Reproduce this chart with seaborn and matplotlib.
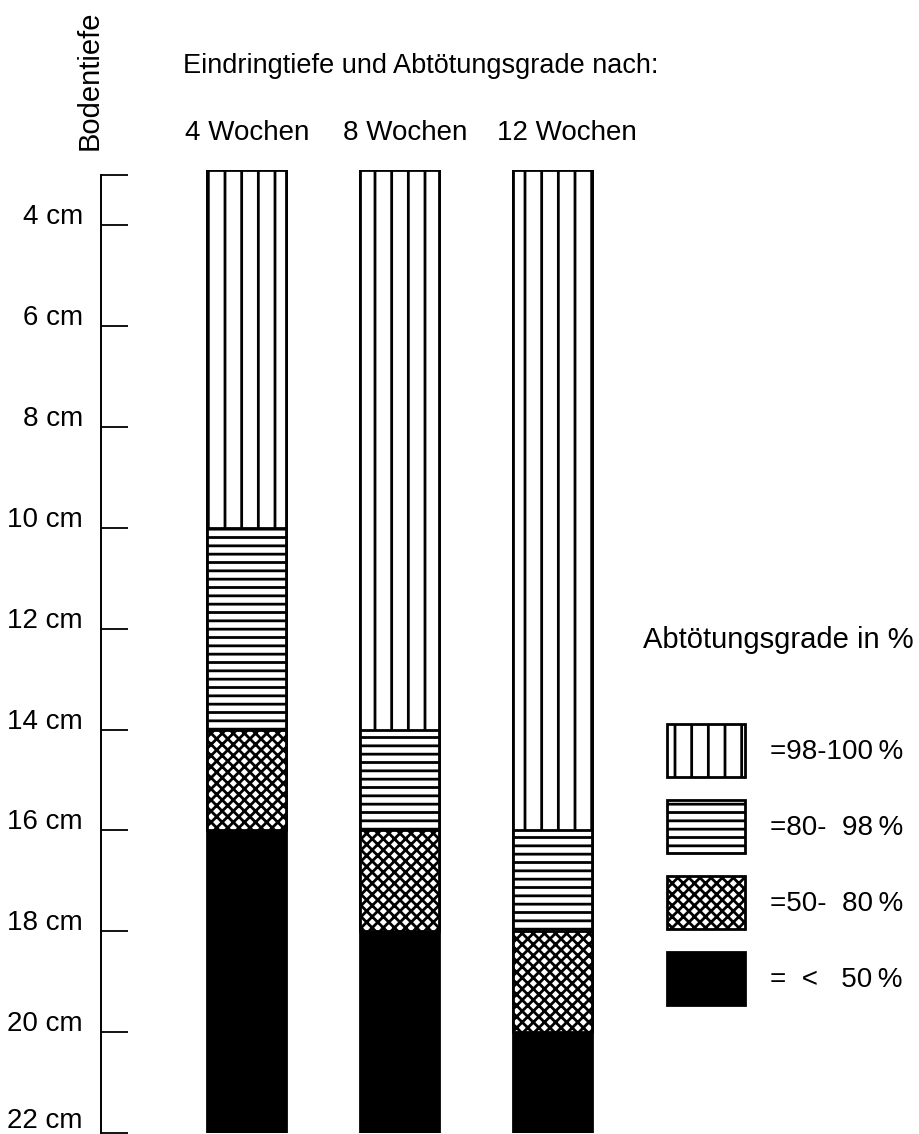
import matplotlib
matplotlib.use("Agg")
import matplotlib.pyplot as plt
import matplotlib.transforms as mtransforms
import numpy as np
import seaborn as sns

# Bodentiefe in cm: where each kill-rate zone ends, per exposure time
weeks = ["4 Wochen", "8 Wochen", "12 Wochen"]
column_top = 2.9
end_98_100 = [10, 14, 16]
end_80_98 = [14, 16, 18]
end_50_80 = [16, 18, 20]
end_lt_50 = [22, 22, 22]

depth_ticks = [3, 4, 6, 8, 10, 12, 14, 16, 18, 20, 22]
depth_labels = ["", "4 cm", "6 cm", "8 cm", "10 cm", "12 cm", "14 cm",
                "16 cm", "18 cm", "20 cm", "22 cm"]

zone_labels = ["=98-100\u2009%", "=80-  98\u2009%", "=50-  80\u2009%", "=  <   50\u2009%"]

sns.set_style("white")
plt.rcParams["font.family"] = ["Liberation Sans", "DejaVu Sans"]
plt.rcParams["text.color"] = "black"
plt.rcParams["hatch.color"] = "black"
plt.rcParams["hatch.linewidth"] = 2.0

FS = 20
W, H, DPI = 919, 1134, 100
fig = plt.figure(figsize=(W / DPI, H / DPI), dpi=DPI)
ax = fig.add_axes([101 / W, 1 / H, 0.5917, (1133 - 170) / H])

# deepest zone first, each shallower zone drawn on top from the column top down
layers = [
    (end_lt_50, "black", "", zone_labels[3]),
    (end_50_80, "white", "xxx", zone_labels[2]),
    (end_80_98, "white", "--", zone_labels[1]),
    (end_98_100, "white", "|", zone_labels[0]),
]
for ends, face, hatch, label in layers:
    heights = np.array(ends) - column_top
    sns.barplot(x=weeks, y=heights, bottom=column_top, color=face,
                saturation=1, edgecolor="black", linewidth=2, hatch=hatch,
                width=0.516, label=label, ax=ax)

ax.set_xlim(-0.954, 2.6)
ax.set_ylim(22, column_top)

for side in ["top", "right", "bottom"]:
    ax.spines[side].set_visible(False)
ax.spines["left"].set_bounds(3, 22)
ax.spines["left"].set_linewidth(1.4)
ax.spines["left"].set_color("black")

ax.set_yticks(depth_ticks)
ax.set_yticklabels(depth_labels)
ax.tick_params(axis="y", left=True, direction="in", length=19.5, width=1.3,
               pad=13, labelsize=FS, colors="black")
# labels sit just above their tick; the last one a bit more so it stays inside
ylabs = ax.get_yticklabels()
for i, lab in enumerate(ylabs):
    dy = 10.5 if i == len(ylabs) - 1 else 8
    lab.set_transform(lab.get_transform() +
                      mtransforms.ScaledTranslation(0, dy / 72, fig.dpi_scale_trans))

ax.xaxis.set_ticks_position("top")
ax.tick_params(axis="x", top=False, bottom=False, labeltop=True,
               labelbottom=False, pad=14, labelsize=FS, colors="black")
# the printed week headings sit a little right of the column centres
for lab, dx in zip(ax.get_xticklabels(), [0, 4, 10]):
    lab.set_transform(lab.get_transform() +
                      mtransforms.ScaledTranslation(dx / 72, 0, fig.dpi_scale_trans))
ax.set_xlabel("")
ax.set_ylabel("")

fig.text(183 / W, 1 - 66 / H, "Eindringtiefe und Abtötungsgrade nach:",
         fontsize=19.5, ha="left", va="center")
fig.text(90 / W, 1 - 150 / H, "Bodentiefe", rotation=90, fontsize=21,
         ha="center", va="bottom")
fig.text(643 / W, 1 - 640 / H, "Abtötungsgrade in %", fontsize=21,
         ha="left", va="center")

handles = ax.containers[::-1]
ax.legend(handles=handles, labels=zone_labels, loc="upper left",
          bbox_to_anchor=(667 / W, 1 - 724 / H), bbox_transform=fig.transFigure,
          frameon=False, fontsize=FS, borderpad=0, borderaxespad=0,
          handlelength=2.8, handleheight=2.56, handletextpad=0.9,
          labelspacing=0.83)

fig.savefig("out.png", dpi=DPI)
